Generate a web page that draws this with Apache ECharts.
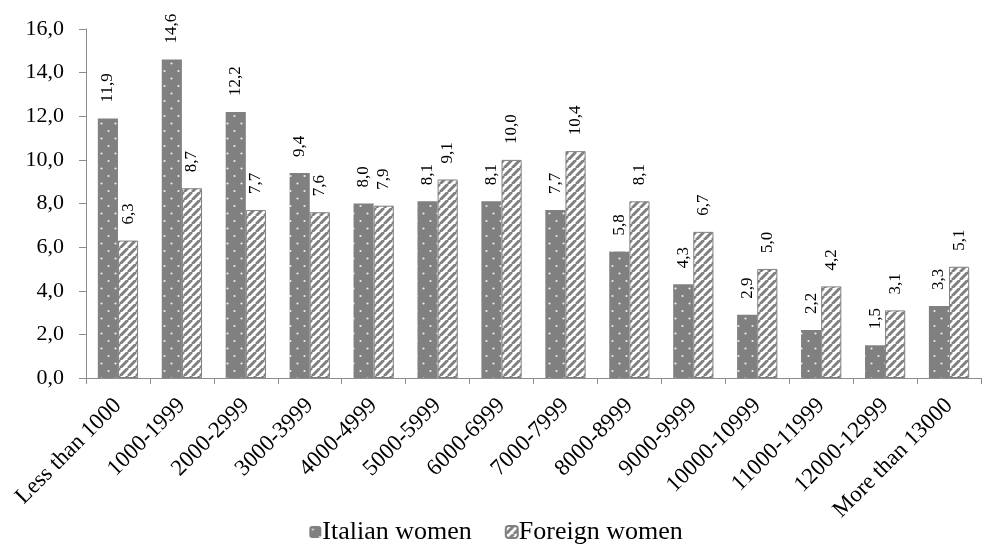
<!DOCTYPE html>
<html>
<head>
<meta charset="utf-8">
<script src="https://cdn.jsdelivr.net/npm/echarts@6/dist/echarts.min.js"></script>
<style>
  html, body { margin: 0; padding: 0; background: #ffffff; }
  #chart { width: 992px; height: 545px; }
</style>
</head>
<body>
<div id="chart"></div>
<script>
// Income classes (euro) and share of women in each class (%)
const categories = ['Less than 1000', '1000-1999', '2000-2999', '3000-3999', '4000-4999',
  '5000-5999', '6000-6999', '7000-7999', '8000-8999', '9000-9999',
  '10000-10999', '11000-11999', '12000-12999', 'More than 13000'];
const italianWomen = [11.9, 14.6, 12.2, 9.4, 8.0, 8.1, 8.1, 7.7, 5.8, 4.3, 2.9, 2.2, 1.5, 3.3];
const foreignWomen = [6.3, 8.7, 7.7, 7.6, 7.9, 9.1, 10.0, 10.4, 8.1, 6.7, 5.0, 4.2, 3.1, 5.1];
const seriesNames = ['Italian women', 'Foreign women'];

const FONT = '"Liberation Serif", "Times New Roman", serif';
const GREY = '#808080';
const AXIS_GREY = '#8c8c8c';

// Grey fill sprinkled with small light dots
function dottedPattern() {
  const c = document.createElement('canvas');
  c.width = 14; c.height = 15;
  const g = c.getContext('2d');
  g.fillStyle = GREY;
  g.fillRect(0, 0, 14, 15);
  g.fillStyle = '#ececec';
  [[3.5, 3.5], [10.5, 11]].forEach(([x, y]) => {
    g.beginPath();
    g.arc(x, y, 1.1, 0, Math.PI * 2);
    g.fill();
  });
  return { image: c, repeat: 'repeat' };
}

// White fill with grey forward-slash stripes
function stripedPattern() {
  const s = 8;
  const c = document.createElement('canvas');
  c.width = s; c.height = s;
  const g = c.getContext('2d');
  g.fillStyle = '#ffffff';
  g.fillRect(0, 0, s, s);
  g.strokeStyle = GREY;
  g.lineWidth = 3;
  [-s, 0, s].forEach(k => {
    g.beginPath();
    g.moveTo(k, s);
    g.lineTo(k + s, 0);
    g.stroke();
  });
  return { image: c, repeat: 'repeat' };
}

const fmt = v => v.toFixed(1).replace('.', ',');

const valueLabel = {
  show: true,
  position: 'top',
  rotate: 90,
  align: 'left',
  verticalAlign: 'middle',
  distance: 16,
  fontFamily: FONT,
  fontSize: 17,
  color: '#000',
  formatter: p => fmt(p.value)
};

const chart = echarts.init(document.getElementById('chart'), null, { renderer: 'canvas' });
chart.setOption({
  animation: false,
  backgroundColor: '#ffffff',
  grid: { left: 86, right: 11, top: 29, bottom: 167, containLabel: false },
  legend: {
    top: 514,
    left: 'center',
    itemWidth: 12,
    itemHeight: 12,
    itemGap: 33,
    textStyle: { fontFamily: FONT, fontSize: 26, color: '#000', padding: [0, 0, 0, -4] },
    data: seriesNames
  },
  xAxis: {
    type: 'category',
    data: categories,
    axisLine: { lineStyle: { color: AXIS_GREY, width: 1 } },
    axisTick: { show: true, length: 6, lineStyle: { color: AXIS_GREY } },
    axisLabel: {
      rotate: 45,
      interval: 0,
      margin: 24,
      fontFamily: FONT,
      fontSize: 23,
      color: '#000'
    }
  },
  yAxis: {
    type: 'value',
    min: 0,
    max: 16,
    interval: 2,
    splitLine: { show: false },
    axisLine: { show: true, lineStyle: { color: AXIS_GREY, width: 1 } },
    axisTick: { show: true, length: 7, lineStyle: { color: AXIS_GREY } },
    axisLabel: {
      margin: 22,
      fontFamily: FONT,
      fontSize: 22,
      color: '#000',
      formatter: v => fmt(v)
    }
  },
  series: [
    {
      name: seriesNames[0],
      type: 'bar',
      data: italianWomen,
      barGap: '0%',
      barCategoryGap: '37%',
      itemStyle: { color: dottedPattern(), borderColor: GREY, borderWidth: 0 },
      label: valueLabel
    },
    {
      name: seriesNames[1],
      type: 'bar',
      data: foreignWomen,
      barGap: '0%',
      barCategoryGap: '37%',
      itemStyle: { color: stripedPattern(), borderColor: GREY, borderWidth: 1 },
      label: valueLabel
    }
  ]
});
</script>
</body>
</html>
